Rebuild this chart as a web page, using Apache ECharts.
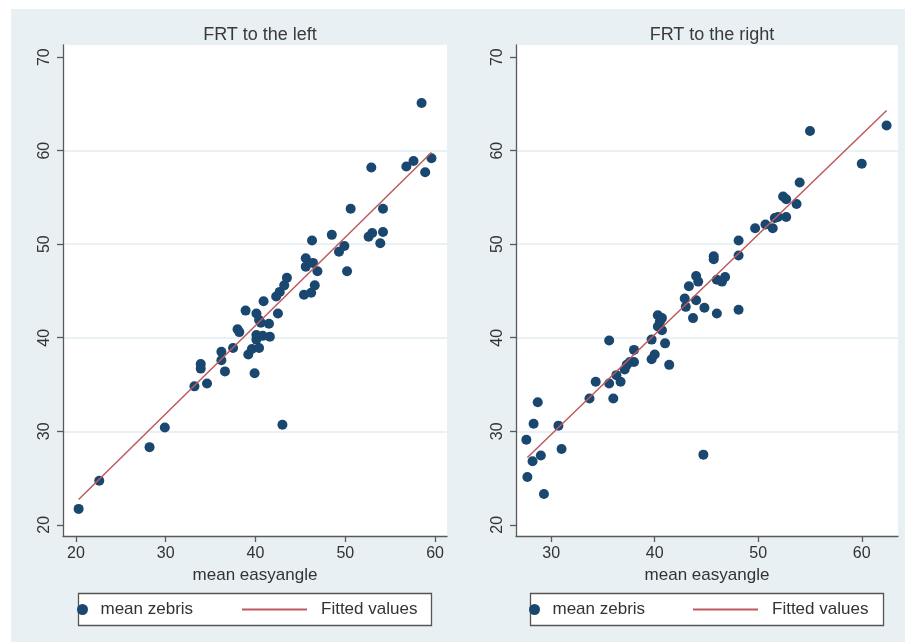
<!DOCTYPE html>
<html>
<head>
<meta charset="utf-8">
<script src="https://cdn.jsdelivr.net/npm/echarts@6/dist/echarts.min.js"></script>
<style>html,body{margin:0;padding:0;background:#fff}#c{width:905px;height:642px}</style>
</head>
<body>
<div id="c"></div>
<script>
// ---- data ----
const panelTitles = ['FRT to the left', 'FRT to the right'];
const xName = 'mean easyangle';
const scatterName = 'mean zebris';
const fitName = 'Fitted values';

const leftX = [20.3,22.6,28.2,29.9,43.0,33.2,34.6,36.6,39.9,33.9,33.9,36.2,36.2,37.5,38.0,38.2,38.9,39.2,39.6,40.1,40.1,40.4,40.1,40.4,40.9,41.5,41.6,42.3,42.7,43.2,43.5,42.5,45.4,46.2,46.6,45.6,45.6,46.4,46.9,46.3,48.5,49.9,49.3,50.2,50.6,52.6,53.0,54.2,53.9,54.2,52.9,56.8,57.6,59.6,58.9,58.5,40.6,40.8];
const leftY = [21.7,24.7,28.3,30.4,30.7,34.8,35.1,36.4,36.2,37.2,36.7,38.5,37.6,38.9,40.9,40.6,42.9,38.2,38.8,40.3,39.8,38.9,42.6,41.9,43.9,41.5,40.1,44.4,44.9,45.6,46.4,42.6,44.6,44.8,45.6,48.5,47.6,48.0,47.1,50.4,51.0,49.8,49.2,47.1,53.8,50.8,51.2,51.3,50.1,53.8,58.2,58.3,58.9,59.2,57.7,65.1,41.6,40.2];
const leftFitX = [20.3, 59.6];
const leftFitY = [22.7, 59.8];

const rightX = [27.7,29.3,28.2,29.0,27.6,28.3,28.7,30.7,31.0,44.7,33.7,34.3,35.6,35.6,36.0,36.3,36.7,37.1,37.3,37.6,38.0,38.0,39.7,39.7,40.0,41.0,41.4,40.3,40.7,40.5,40.3,40.7,42.9,43.0,43.3,44.0,44.2,43.7,44.8,44.0,55.0,62.4,60.0,54.0,52.4,52.7,53.7,51.6,51.9,52.7,51.4,50.7,49.7,48.1,48.1,45.7,45.7,48.1,46.0,46.5,46.8,46.0];
const rightY = [25.1,23.3,26.8,27.4,29.1,30.8,33.1,30.6,28.1,27.5,33.5,35.3,39.7,35.1,33.5,36.0,35.3,36.6,37.1,37.4,38.7,37.4,39.8,37.7,38.2,39.4,37.1,42.4,42.1,41.7,41.2,40.8,44.2,43.3,45.5,46.6,46.0,42.1,43.2,44.0,62.1,62.7,58.6,56.6,55.1,54.8,54.3,52.8,52.9,52.9,51.7,52.1,51.7,50.4,48.8,48.7,48.4,43.0,46.2,46.0,46.5,42.6];
const rightFitX = [27.7, 62.4];
const rightFitY = [27.2, 64.3];

const xTicksLeft = [20, 30, 40, 50, 60];
const xTicksRight = [30, 40, 50, 60];
const yTicks = [20, 30, 40, 50, 60, 70];

const zip = (a, b) => a.map((v, i) => [v, b[i]]);

// ---- styles ----
const FONT = 'Liberation Sans, Arial, sans-serif';
const DOT = '#1a476f';
const LINE = '#bd5a5e';
const AX = '#5a5a5a';
const TXT = '#333';

function xAxis(idx, min, max, ticks) {
  return {
    type: 'value', gridIndex: idx, min: min, max: max,
    name: xName, nameLocation: 'middle', nameGap: 27,
    nameTextStyle: { fontFamily: FONT, fontSize: 17, color: TXT },
    axisLine: { show: true, onZero: false, lineStyle: { color: AX, width: 1.3 } },
    axisTick: { show: true, length: 6, customValues: ticks, lineStyle: { color: AX, width: 1.3 } },
    axisLabel: { customValues: ticks, fontFamily: FONT, fontSize: 16, color: TXT, margin: 10 },
    splitLine: { show: false }
  };
}
function yAxis(idx) {
  return {
    type: 'value', gridIndex: idx, min: 18.8, max: 71.3,
    axisLine: { show: true, onZero: false, lineStyle: { color: AX, width: 1.3 } },
    axisTick: { show: true, length: 6, customValues: yTicks, lineStyle: { color: AX, width: 1.3 } },
    axisLabel: { customValues: yTicks, rotate: 90, fontFamily: FONT, fontSize: 16, color: TXT, margin: 10 },
    splitLine: { show: true, showMinLine: false, showMaxLine: false, lineStyle: { color: '#e9f1f3', width: 2 } }
  };
}

const option = {
  backgroundColor: '#ffffff',
  animation: false,
  graphic: [
    { type: 'rect', z: -10, shape: { x: 11, y: 9, width: 894, height: 633 }, style: { fill: '#e8f0f3' }, silent: true },
    { type: 'rect', z: 1, shape: { x: 78.5, y: 593.5, width: 353, height: 32 }, style: { fill: '#fff', stroke: '#555', lineWidth: 1.3 }, silent: true },
    { type: 'rect', z: 1, shape: { x: 530.5, y: 593.5, width: 353, height: 32 }, style: { fill: '#fff', stroke: '#555', lineWidth: 1.3 }, silent: true }
  ],
  title: [
    { text: panelTitles[0], left: 255, top: 21, textAlign: 'center', textStyle: { fontFamily: FONT, fontSize: 18, fontWeight: 'normal', color: '#3a3a3a' } },
    { text: panelTitles[1], left: 707, top: 21, textAlign: 'center', textStyle: { fontFamily: FONT, fontSize: 18, fontWeight: 'normal', color: '#3a3a3a' } }
  ],
  grid: [
    { left: 63, top: 45, width: 384, height: 491, show: true, backgroundColor: '#fff', borderWidth: 0 },
    { left: 516, top: 45, width: 382, height: 491, show: true, backgroundColor: '#fff', borderWidth: 0 }
  ],
  xAxis: [xAxis(0, 18.56, 61.33, xTicksLeft), xAxis(1, 26.6, 63.5, xTicksRight)],
  yAxis: [yAxis(0), yAxis(1)],
  legend: [
    { data: [scatterName], left: 77, top: 601, padding: 0, itemWidth: 26, itemHeight: 11, icon: 'circle', selectedMode: false, z: 5,
      textStyle: { fontFamily: FONT, fontSize: 17, color: TXT } },
    { data: [{ name: fitName, icon: 'rect' }], left: 242, top: 601, padding: 0, itemWidth: 65, itemHeight: 2, selectedMode: false, z: 5,
      textStyle: { fontFamily: FONT, fontSize: 17, color: TXT, padding: [0, 0, 0, 9] } },
    { data: [scatterName], left: 529, top: 601, padding: 0, itemWidth: 26, itemHeight: 11, icon: 'circle', selectedMode: false, z: 5,
      textStyle: { fontFamily: FONT, fontSize: 17, color: TXT } },
    { data: [{ name: fitName, icon: 'rect' }], left: 693, top: 601, padding: 0, itemWidth: 65, itemHeight: 2, selectedMode: false, z: 5,
      textStyle: { fontFamily: FONT, fontSize: 17, color: TXT, padding: [0, 0, 0, 9] } }
  ],
  series: [
    { name: scatterName, type: 'scatter', xAxisIndex: 0, yAxisIndex: 0, symbolSize: 10, itemStyle: { color: DOT, opacity: 1 }, data: zip(leftX, leftY) },
    { name: fitName, type: 'line', xAxisIndex: 0, yAxisIndex: 0, symbol: 'none', lineStyle: { color: LINE, width: 1.5 }, itemStyle: { color: LINE }, data: zip(leftFitX, leftFitY) },
    { name: scatterName, type: 'scatter', xAxisIndex: 1, yAxisIndex: 1, symbolSize: 10, itemStyle: { color: DOT, opacity: 1 }, data: zip(rightX, rightY) },
    { name: fitName, type: 'line', xAxisIndex: 1, yAxisIndex: 1, symbol: 'none', lineStyle: { color: LINE, width: 1.5 }, itemStyle: { color: LINE }, data: zip(rightFitX, rightFitY) }
  ]
};
const chart = echarts.init(document.getElementById('c'), null, { renderer: 'canvas' });
chart.setOption(option);
</script>
</body>
</html>
